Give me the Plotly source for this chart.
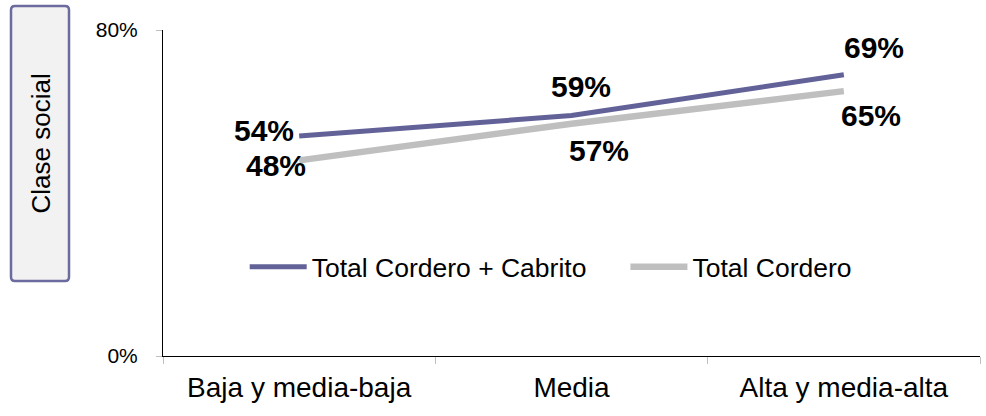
import plotly.graph_objects as go

categories = ["Baja y media-baja", "Media", "Alta y media-alta"]
total_cordero_cabrito = [0.54, 0.59, 0.69]
total_cordero = [0.48, 0.57, 0.65]
series_names = ["Total Cordero + Cabrito", "Total Cordero"]
y_tick_vals = [0, 0.8]
y_tick_text = ["0%", "80%"]
side_label = "Clase social"

PURPLE = "#626299"
GREY = "#BFBFBF"
FONT = "Liberation Sans, Arial, sans-serif"

fig = go.Figure()
fig.add_trace(go.Scatter(x=categories, y=total_cordero_cabrito, name=series_names[0],
                         mode="lines", line=dict(color=PURPLE, width=5), hoverinfo="skip",
                         legend="legend"))
fig.add_trace(go.Scatter(x=categories, y=total_cordero, name=series_names[1],
                         mode="lines", line=dict(color=GREY, width=6.5), hoverinfo="skip",
                         legend="legend2"))

# data labels: (series values, offsets per point)
offs_a = [(-35, 5), (9, 29), (30, 27)]
offs_b = [(-23, -5), (27, -27), (27, -24)]
for vals, offs in ((total_cordero_cabrito, offs_a), (total_cordero, offs_b)):
    for c, v, (dx, dy) in zip(categories, vals, offs):
        fig.add_annotation(x=c, y=v, text=f"{round(v*100)}%", showarrow=False,
                           xshift=dx, yshift=dy,
                           font=dict(family=FONT, size=30, color="black", weight="bold"))

# side label box
px_w = 817.0
px_h = 326.0
x0, x1 = (11 - 163) / px_w, (69 - 163) / px_w
y0, y1 = (356 - 281) / px_h, (356 - 6) / px_h
rx, ry = 4 / px_w, 4 / px_h
path = (f"M{x0+rx},{y0} L{x1-rx},{y0} Q{x1},{y0} {x1},{y0+ry} L{x1},{y1-ry} Q{x1},{y1} {x1-rx},{y1} "
        f"L{x0+rx},{y1} Q{x0},{y1} {x0},{y1-ry} L{x0},{y0+ry} Q{x0},{y0} {x0+rx},{y0} Z")
fig.add_shape(type="path", path=path, xref="paper", yref="paper",
              fillcolor="#F2F2F2", line=dict(color="#6B6BA0", width=2.5), layer="below")
fig.add_annotation(x=(x0 + x1) / 2, y=(y0 + y1) / 2, xref="paper", yref="paper",
                   text=side_label, textangle=-90, showarrow=False, xshift=-17,
                   font=dict(family=FONT, size=26, color="black"))

legend_common = dict(orientation="h", y=0.273, xanchor="left", yanchor="middle",
                     bgcolor="rgba(0,0,0,0)", font=dict(size=26.5, family=FONT),
                     itemwidth=57)

fig.update_layout(
    width=986, height=416, autosize=False,
    margin=dict(l=163, r=6, t=30, b=60),
    paper_bgcolor="white", plot_bgcolor="white",
    font=dict(family=FONT, color="black"),
    showlegend=True,
    legend=dict(x=0.1, **legend_common),
    legend2=dict(x=0.566, **legend_common),
    xaxis=dict(type="category", range=[-0.5, 2.5], showline=True, linecolor="black",
               linewidth=1, ticks="outside", tickson="boundaries", ticklen=7,
               tickcolor="#BFBFBF", showgrid=False, zeroline=False, ticklabelstandoff=6,
               tickfont=dict(size=28, family=FONT), fixedrange=True),
    yaxis=dict(range=[0, 0.8], tickvals=y_tick_vals, ticktext=y_tick_text,
               showline=True, linecolor="black", linewidth=1, ticks="outside",
               ticklen=6, tickcolor="#BFBFBF", showgrid=False, zeroline=False,
               ticklabelstandoff=14,
               tickfont=dict(size=21, family=FONT), fixedrange=True),
)

fig.write_html("out.html")
